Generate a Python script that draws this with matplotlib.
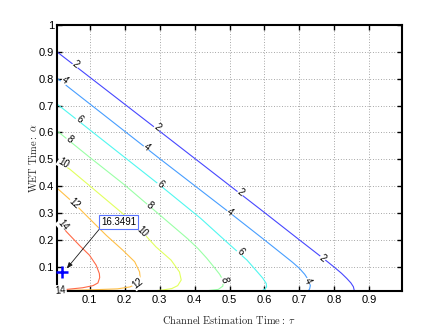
import numpy as np
import matplotlib
matplotlib.use("Agg")
import matplotlib.pyplot as plt
from matplotlib.colors import Normalize

# contour levels and the curves (tau, alpha)
levels = [2, 4, 6, 8, 10, 12, 14]

c2_tau = [0.007, 0.30, 0.60, 0.70, 0.78, 0.80, 0.82, 0.835, 0.847, 0.854, 0.857]
c2_alpha = [0.900, 0.605, 0.302, 0.200, 0.119, 0.098, 0.076, 0.057, 0.040, 0.026, 0.010]

c4_tau = [0.007, 0.30, 0.50, 0.60, 0.68, 0.70, 0.715, 0.726, 0.731, 0.729, 0.725]
c4_alpha = [0.802, 0.503, 0.302, 0.200, 0.117, 0.094, 0.072, 0.050, 0.030, 0.018, 0.010]

c6_tau = [0.007, 0.30, 0.417, 0.50, 0.55, 0.575, 0.595, 0.605, 0.606, 0.600, 0.590]
c6_alpha = [0.706, 0.405, 0.281, 0.183, 0.125, 0.088, 0.058, 0.038, 0.025, 0.015, 0.010]

c8_tau = [0.007, 0.10, 0.20, 0.29, 0.38, 0.41, 0.435, 0.455, 0.472, 0.482, 0.481, 0.468, 0.43]
c8_alpha = [0.606, 0.508, 0.405, 0.305, 0.205, 0.168, 0.132, 0.100, 0.072, 0.048, 0.028, 0.016, 0.010]

c10_tau = [0.007, 0.043, 0.10, 0.195, 0.25, 0.29, 0.333, 0.357, 0.362, 0.352, 0.335, 0.31, 0.28]
c10_alpha = [0.492, 0.464, 0.402, 0.298, 0.231, 0.174, 0.125, 0.081, 0.051, 0.030, 0.019, 0.014, 0.010]

c12_tau = [0.007, 0.057, 0.10, 0.148, 0.195, 0.229, 0.243, 0.245, 0.238, 0.215, 0.18, 0.12, 0.06, 0.007]
c12_alpha = [0.393, 0.335, 0.279, 0.217, 0.162, 0.119, 0.081, 0.055, 0.038, 0.025, 0.018, 0.015, 0.013, 0.012]

c14_tau = [0.007, 0.023, 0.033, 0.071, 0.10, 0.119, 0.128, 0.129, 0.124, 0.110, 0.080, 0.050, 0.020, 0.007]
c14_alpha = [0.272, 0.250, 0.232, 0.180, 0.143, 0.106, 0.075, 0.060, 0.040, 0.030, 0.022, 0.018, 0.014, 0.013]

curves = {2: (c2_tau, c2_alpha), 4: (c4_tau, c4_alpha), 6: (c6_tau, c6_alpha),
          8: (c8_tau, c8_alpha), 10: (c10_tau, c10_alpha), 12: (c12_tau, c12_alpha),
          14: (c14_tau, c14_alpha)}

peak_tau = 0.022
peak_alpha = 0.08
peak_value = 16.3491

plt.rcParams['font.family'] = ['Liberation Sans', 'DejaVu Sans']
plt.rcParams['mathtext.fontset'] = 'cm'

W, H = 444, 329
fig = plt.figure(figsize=(W / 100, H / 100), dpi=100)
ax = fig.add_axes([57 / W, 1 - 291 / H, (402 - 57) / W, (291 - 25) / H])
ax.set_xlim(0.007, 0.993)
ax.set_ylim(0.01, 1.0)

ax.set_xticks(np.arange(1, 10) / 10)
ax.set_xticklabels(['0.1', '0.2', '0.3', '0.4', '0.5', '0.6', '0.7', '0.8', '0.9'])
ax.set_yticks(np.arange(1, 11) / 10)
ax.set_yticklabels(['0.1', '0.2', '0.3', '0.4', '0.5', '0.6', '0.7', '0.8', '0.9', '1'])
ax.tick_params(direction='in', top=True, right=True, length=3.5, width=1.0,
               labelsize=8, pad=3)
ax.tick_params(axis='y', pad=2)
for s in ax.spines.values():
    s.set_linewidth(1.5)
ax.grid(True, linestyle=(0, (1, 2.5)), color='0.45', linewidth=0.55)
ax.set_axisbelow(True)

# jet colours, a bit washed out like the thin MATLAB lines
norm = Normalize(0, peak_value)
def level_color(lev):
    c = np.array(plt.cm.jet(norm(lev))[:3])
    return tuple(0.72 * c + 0.28)

for lev in levels:
    t, a = curves[lev]
    ax.plot(t, a, color=level_color(lev), lw=0.8, zorder=2)

# inline labels like clabel
label_spots = {
    2: [(0.061, 0.852), (0.294, 0.619), (0.532, 0.376), (0.767, 0.133)],
    4: [(0.030, 0.793), (0.264, 0.545), (0.501, 0.302), (0.723, 0.046)],
    6: [(0.071, 0.649), (0.302, 0.406), (0.532, 0.156)],
    8: [(0.044, 0.575), (0.273, 0.327), (0.484, 0.050)],
    10: [(0.025, 0.487), (0.251, 0.231)],
    12: [(0.056, 0.335), (0.238, 0.038)],
    14: [(0.023, 0.256), (0.018, 0.013)],
}
for lev, spots in label_spots.items():
    t, a = curves[lev]
    pts = ax.transData.transform(np.column_stack([t, a]))
    for sx, sy in spots:
        p = ax.transData.transform((sx, sy))
        d = np.hypot(pts[:, 0] - p[0], pts[:, 1] - p[1])
        i = int(np.argmin(d))
        i0, i1 = max(i - 1, 0), min(i + 1, len(pts) - 1)
        ang = np.degrees(np.arctan2(pts[i1, 1] - pts[i0, 1], pts[i1, 0] - pts[i0, 0]))
        if ang > 90:
            ang -= 180
        if ang < -90:
            ang += 180
        ax.text(sx, sy, str(lev), rotation=ang, rotation_mode='anchor',
                ha='center', va='center', fontsize=7, zorder=3,
                bbox=dict(boxstyle='square,pad=0.05', fc='white', ec='none'))

ax.plot(peak_tau, peak_alpha, '+', color=(0, 0, 1), ms=8, mew=1.8, zorder=5, clip_on=False)
ax.annotate('%.4f' % peak_value, xy=(0.035, 0.094), xytext=(0.184, 0.268),
            fontsize=7, ha='center', va='center', zorder=6,
            bbox=dict(boxstyle='square,pad=0.2', fc='white', ec=(0.35, 0.45, 1.0), lw=0.8),
            arrowprops=dict(arrowstyle='-|>,head_length=0.5,head_width=0.2', color='0.1',
                            lw=0.6, relpos=(0, 0), shrinkA=0, shrinkB=0))

ax.set_xlabel(r'$\mathrm{Channel\ Estimation\ Time:}\ \tau$', fontsize=7.5, color='0.15', va='center')
ax.xaxis.set_label_coords(0.5, -(320 - 291) / 266)
ax.set_ylabel(r'$\mathrm{WET\ Time:}\ \alpha$', fontsize=7.5, color='0.15', va='center')
ax.yaxis.set_label_coords(-(57 - 33) / 345, 0.5)

fig.savefig('out.png', dpi=100)
